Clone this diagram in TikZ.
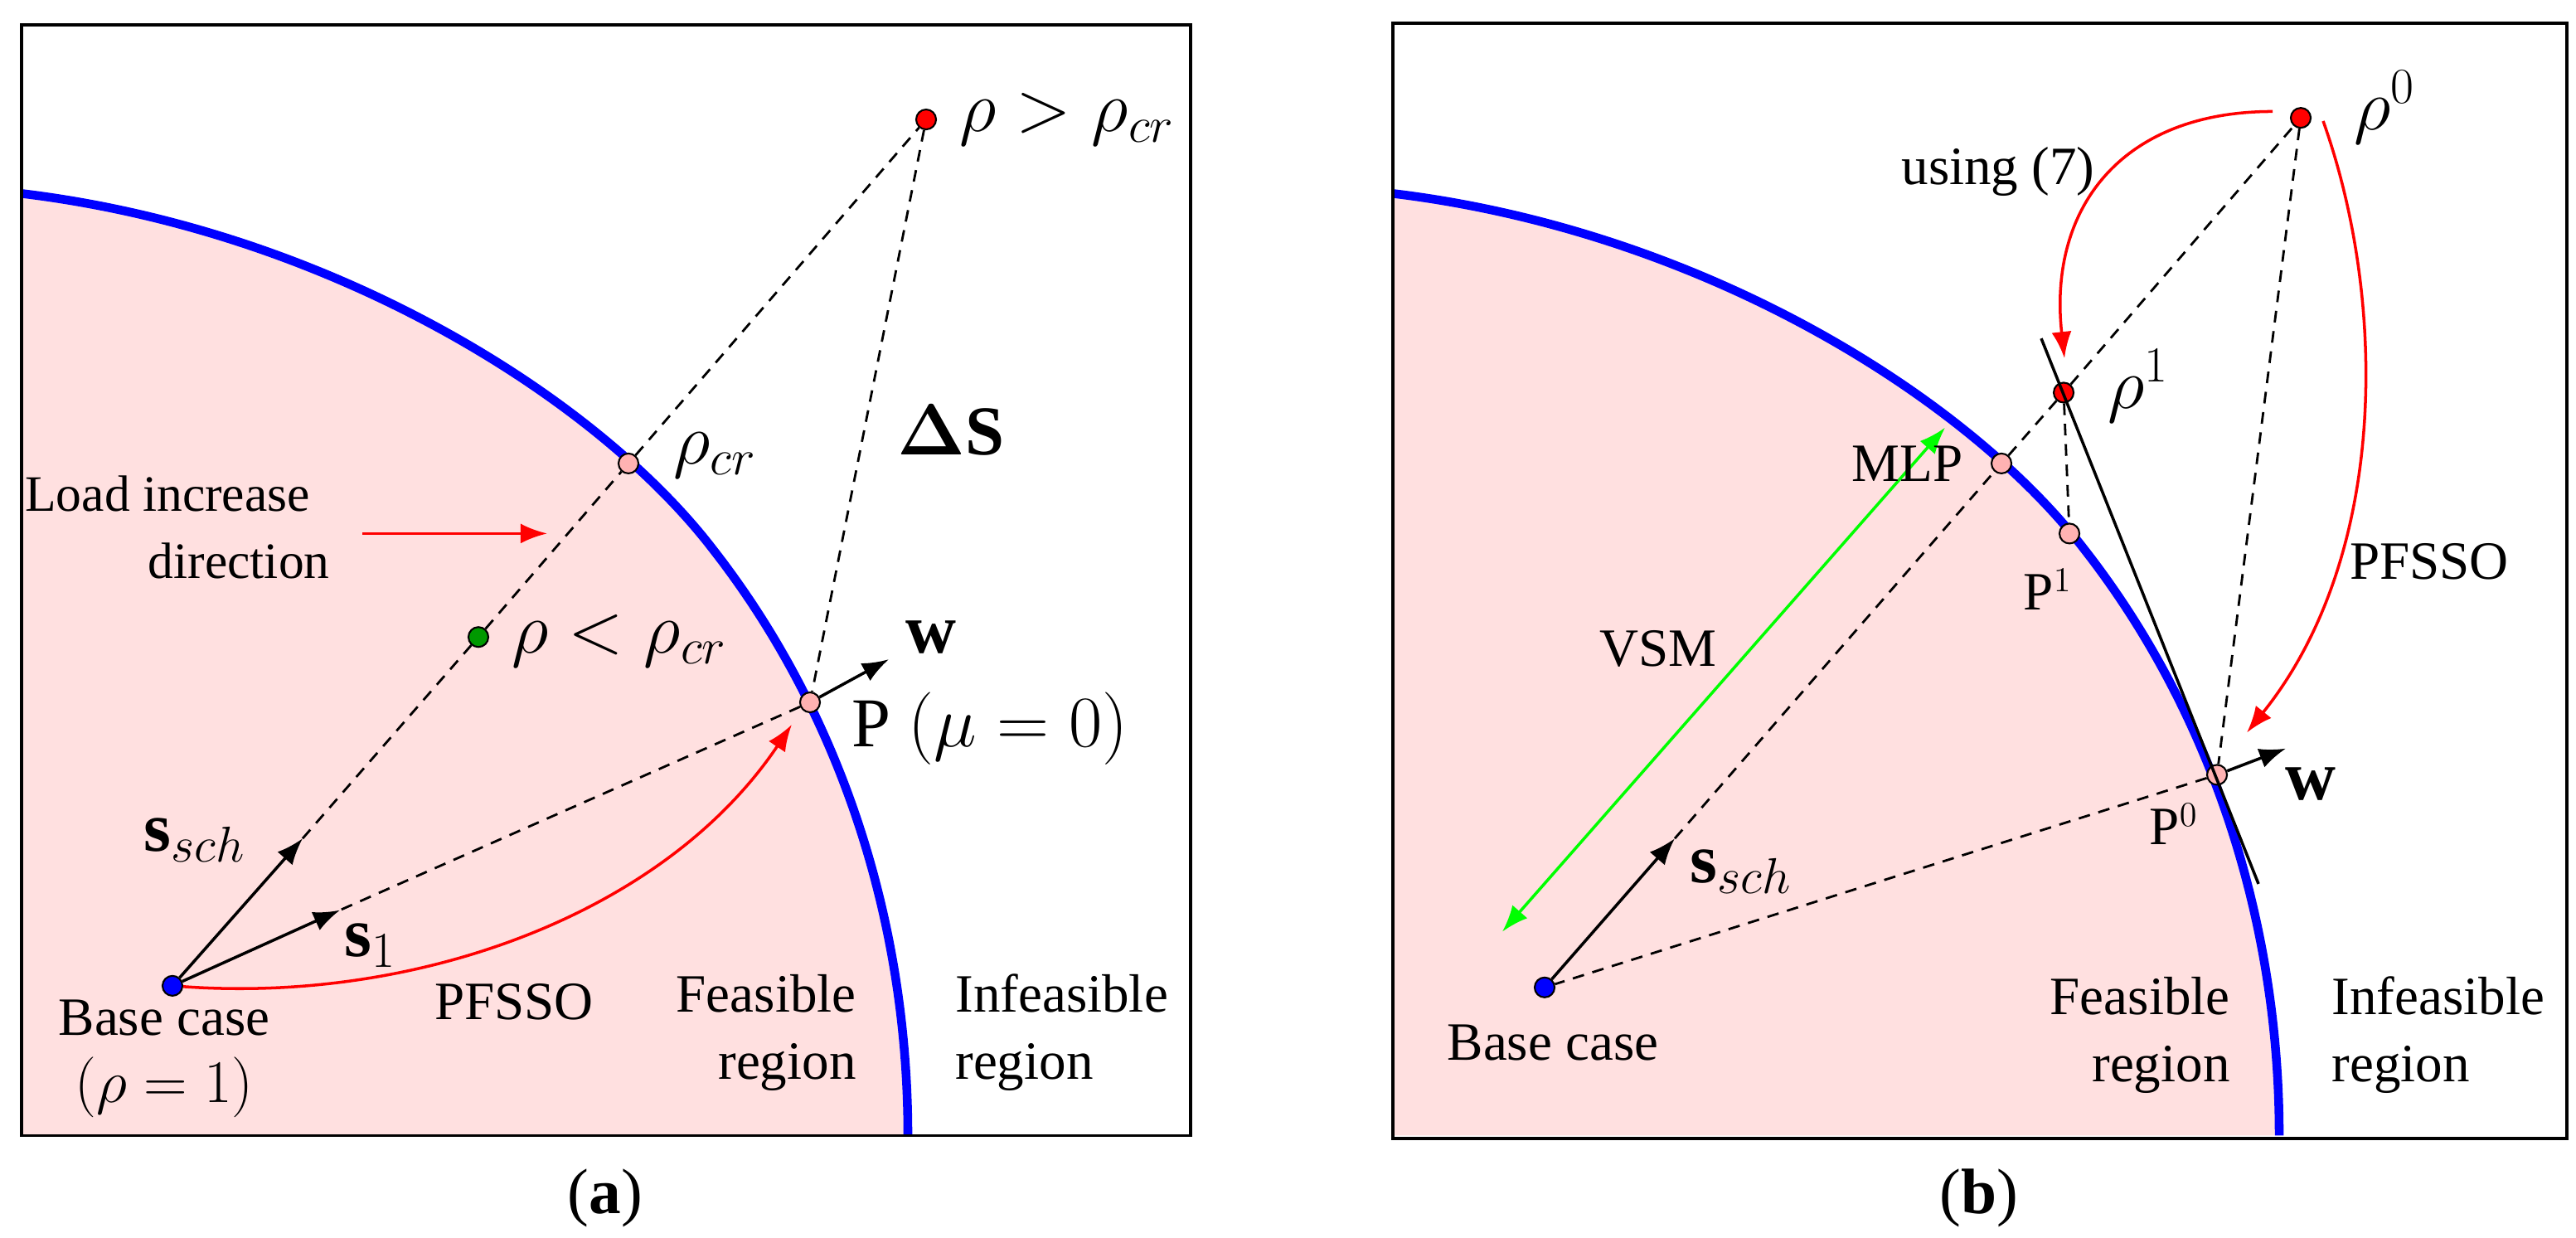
\documentclass[tikz,border=0pt]{standalone}
\usepackage{fontspec}
\setmainfont{Liberation Serif}
\usepackage{amsmath,bm}
\usetikzlibrary{arrows.meta}
\begin{document}
\begin{tikzpicture}[x=0.01cm,y=-0.0096cm,
  dot/.style={circle,draw=black,line width=0.6pt,inner sep=0pt,minimum size=0.24cm},
  dsh/.style={line width=0.8pt,dash pattern=on 4pt off 3pt},
  vec/.style={-{Latex[length=0.32cm,width=0.24cm]},line width=1pt},
  red arc/.style={-{Latex[length=0.32cm,width=0.24cm]},red,line width=1pt},
  lbl/.style={font=\fontsize{18.5}{23}\selectfont,align=center},
  mth/.style={font=\fontsize{24}{28}\selectfont,align=center},
  bound/.style={blue,line width=3pt}]
\useasboundingbox (0,0) rectangle (3107,1554);
% panel a
\fill[red!12] (26,243) .. controls (400,290) and (720,500) .. (860,690) .. controls (1010,890) and (1095,1150) .. (1095,1426) -- (26,1426) -- cycle;
\draw[bound] (26,243) .. controls (400,290) and (720,500) .. (860,690) .. controls (1010,890) and (1095,1150) .. (1095,1426);
\draw[line width=1pt] (26,31) rectangle (1436,1426);
\node[dot,fill=blue] (base) at (208,1238) {};
\node[dot,fill=red!30] (rcr) at (758,582) {};
\node[dot,fill=green!60!black] (rlt) at (577,800) {};
\node[dot,fill=red] (rgt) at (1117,150) {};
\node[dot,fill=red!30] (P) at (977,882) {};
\coordinate (ss) at (365,1053);
\coordinate (s1) at (410,1143);
\coordinate (w) at (1072,828);
\draw[dsh] (ss) -- (rlt) -- (rcr) -- (rgt) -- (P) -- (s1);
\draw[vec] (base) -- (ss);
\draw[vec] (base) -- (s1);
\draw[vec] (P) -- (w);
\draw[red arc] (base) .. controls (500,1260) and (800,1150) .. (955,910);
\coordinate (la) at (437,670); \coordinate (lb) at (660,670);
\draw[red arc] (la) -- (lb);
\node[lbl,anchor=east,font=\fontsize{17.5}{23}\selectfont] at (410,662) {Load increase\\\hspace*{2.8em}direction};
\node[mth,anchor=west] at (1145,150) {$\rho>\rho_{cr}$};
\node[mth,anchor=west] at (800,572) {$\rho_{cr}$};
\node[mth,anchor=west] at (605,805) {$\rho<\rho_{cr}$};
\node[mth,anchor=west] at (1070,540) {$\bm{\Delta}\mathbf{S}$};
\node[mth,anchor=west] at (1080,800) {$\mathbf{w}$};
\node[mth,anchor=west] at (1015,915) {P $(\mu=0)$};
\node[mth] at (235,1055) {$\mathbf{s}_{sch}$};
\node[mth] at (447,1187) {$\mathbf{s}_1$};
\node[lbl] at (620,1258) {PFSSO};
\node[lbl] at (198,1330) {Base case\\\fontsize{21}{23}\selectfont$(\rho=1)$};
\node[lbl,align=right,anchor=east] at (1045,1297) {Feasible\\region};
\node[lbl,align=left,anchor=west] at (1140,1297) {Infeasible\\region};
\node[lbl,font=\fontsize{22}{26}\selectfont] at (730,1505) {(\textbf{a})};
% panel b
\begin{scope}[xshift=1654*0.01cm]
\fill[red!12] (26,243) .. controls (400,290) and (720,500) .. (860,690) .. controls (1010,890) and (1095,1150) .. (1095,1426) -- (26,1426) -- cycle;
\draw[bound] (26,243) .. controls (400,290) and (720,500) .. (860,690) .. controls (1010,890) and (1095,1150) .. (1095,1426);
\end{scope}
\draw[line width=1pt] (1680,29) rectangle (3096,1430);
\node[dot,fill=blue] (bb) at (1863,1240) {};
\node[dot,fill=red] (r0) at (2775,148) {};
\node[dot,fill=red] (r1) at (2489,493) {};
\node[dot,fill=red!30] (mlp) at (2414,582) {};
\node[dot,fill=red!30] (p1) at (2496,670) {};
\node[dot,fill=red!30] (p0) at (2674,973) {};
\coordinate (bs) at (2020,1053);
\coordinate (bw) at (2757,940);
\coordinate (t1) at (2462,425); \coordinate (t2) at (2724,1110);
\draw[dsh] (bs) -- (mlp) -- (r1) -- (r0) -- (p0) -- (bb);
\draw[dsh] (r1) -- (p1);
\draw[line width=1pt] (t1) -- (t2);
\draw[vec] (bb) -- (bs);
\draw[vec] (p0) -- (bw);
\coordinate (g1) at (1812,1170); \coordinate (g2) at (2346,537);
\draw[{Latex[length=0.32cm,width=0.24cm]}-{Latex[length=0.32cm,width=0.24cm]},green,line width=1pt] (g1) -- (g2);
\coordinate (u1) at (2741,140); \coordinate (u2) at (2490,450);
\draw[red arc] (u1) .. controls (2560,140) and (2470,260) .. (u2);
\coordinate (v1) at (2802,152); \coordinate (v2) at (2710,920);
\draw[red arc] (v1) .. controls (2880,380) and (2880,700) .. (v2);
\node[lbl] at (2410,215) {using (7)};
\node[mth,anchor=west] at (2827,135) {$\rho^0$};
\node[mth,anchor=west] at (2530,485) {$\rho^1$};
\node[lbl,anchor=east] at (2380,582) {MLP};
\node[lbl] at (2470,740) {P$^1$};
\node[lbl] at (2000,815) {VSM};
\node[lbl] at (2930,705) {PFSSO};
\node[mth] at (2787,985) {$\mathbf{w}$};
\node[lbl] at (2622,1035) {P$^0$};
\node[mth] at (2100,1095) {$\mathbf{s}_{sch}$};
\node[lbl] at (1873,1310) {Base case};
\node[lbl,align=right,anchor=east] at (2702,1300) {Feasible\\region};
\node[lbl,align=left,anchor=west] at (2800,1300) {Infeasible\\region};
\node[lbl,font=\fontsize{22}{26}\selectfont] at (2387,1505) {(\textbf{b})};
\end{tikzpicture}
\end{document}
